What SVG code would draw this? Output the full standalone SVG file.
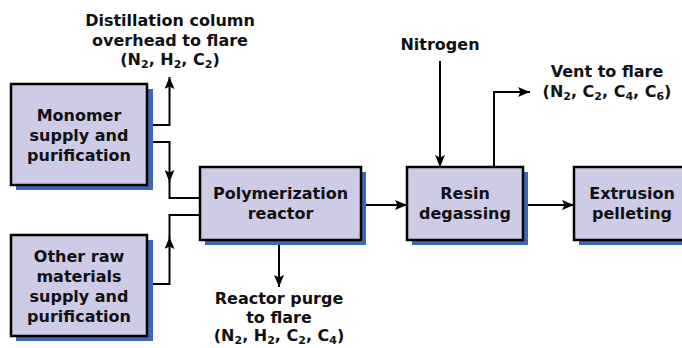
<svg xmlns="http://www.w3.org/2000/svg" width="682" height="348" viewBox="0 0 682 348">
<style>
.shadow{fill:#3f67b2}
.box{fill:#cdcbe6;stroke:#000;stroke-width:2.5}
text{font-family:"DejaVu Sans","Liberation Sans",sans-serif;font-weight:bold;font-size:16px;fill:#111;text-anchor:middle}
.sub{font-size:11px}
.ln{fill:none;stroke:#000;stroke-width:2}
</style>
<defs>
<marker id="ah" viewBox="0 0 12 10" refX="12" refY="5" markerWidth="12" markerHeight="10" markerUnits="userSpaceOnUse" orient="auto">
<path d="M0,0 L12,5 L0,10 L2.5,5 Z" fill="#000"/>
</marker>
</defs>
<rect width="682" height="348" fill="#fff"/>
<g id="connectors">
<path class="ln" d="M147,125 H169.5 V77" marker-end="url(#ah)"/>
<path class="ln" d="M147,142 H169.5 V182" marker-end="url(#ah)"/>
<path class="ln" d="M169.5,181 V198 H200"/>
<path class="ln" d="M147,284 H169.5 V237" marker-end="url(#ah)"/>
<path class="ln" d="M169.5,238 V215 H200"/>
<path class="ln" d="M279,240 V287" marker-end="url(#ah)"/>
<path class="ln" d="M361,205 H407" marker-end="url(#ah)"/>
<path class="ln" d="M523,205 H574" marker-end="url(#ah)"/>
<path class="ln" d="M440,61 V167" marker-end="url(#ah)"/>
<path class="ln" d="M494,167 V92 H530" marker-end="url(#ah)"/>
</g>
<g id="monomer">
<rect class="shadow" x="16" y="89" width="137" height="101"/>
<rect class="box" x="11" y="84" width="136" height="101"/>
<text x="79" y="121">Monomer</text>
<text x="79" y="141">supply and</text>
<text x="79" y="161">purification</text>
</g>
<g id="otherraw">
<rect class="shadow" x="16" y="240" width="137" height="101"/>
<rect class="box" x="11" y="235" width="136" height="101"/>
<text x="79" y="262">Other raw</text>
<text x="79" y="282">materials</text>
<text x="79" y="302">supply and</text>
<text x="79" y="322">purification</text>
</g>
<g id="polymerization">
<rect class="shadow" x="205" y="172" width="161" height="73"/>
<rect class="box" x="200" y="167" width="161" height="73"/>
<text x="280.5" y="199">Polymerization</text>
<text x="280.5" y="219">reactor</text>
</g>
<g id="resin">
<rect class="shadow" x="412" y="172" width="116" height="73"/>
<rect class="box" x="407" y="167" width="116" height="73"/>
<text x="465" y="199">Resin</text>
<text x="465" y="219">degassing</text>
</g>
<g id="extrusion">
<rect class="shadow" x="579" y="172" width="120" height="73"/>
<rect class="box" x="574" y="167" width="120" height="73"/>
<text x="632" y="199">Extrusion</text>
<text x="632" y="219">pelleting</text>
</g>
<g id="distillation-label">
<text x="170" y="26">Distillation column</text>
<text x="170" y="46">overhead to flare</text>
<text x="170" y="65">(N<tspan class="sub" dy="3">2</tspan><tspan dy="-3">, H</tspan><tspan class="sub" dy="3">2</tspan><tspan dy="-3">, C</tspan><tspan class="sub" dy="3">2</tspan><tspan dy="-3">)</tspan></text>
</g>
<g id="nitrogen-label">
<text x="440" y="50">Nitrogen</text>
</g>
<g id="vent-label">
<text x="607" y="77">Vent to flare</text>
<text x="607" y="97">(N<tspan class="sub" dy="3">2</tspan><tspan dy="-3">, C</tspan><tspan class="sub" dy="3">2</tspan><tspan dy="-3">, C</tspan><tspan class="sub" dy="3">4</tspan><tspan dy="-3">, C</tspan><tspan class="sub" dy="3">6</tspan><tspan dy="-3">)</tspan></text>
</g>
<g id="purge-label">
<text x="279" y="304">Reactor purge</text>
<text x="279" y="323">to flare</text>
<text x="279" y="341">(N<tspan class="sub" dy="3">2</tspan><tspan dy="-3">, H</tspan><tspan class="sub" dy="3">2</tspan><tspan dy="-3">, C</tspan><tspan class="sub" dy="3">2</tspan><tspan dy="-3">, C</tspan><tspan class="sub" dy="3">4</tspan><tspan dy="-3">)</tspan></text>
</g>
</svg>
